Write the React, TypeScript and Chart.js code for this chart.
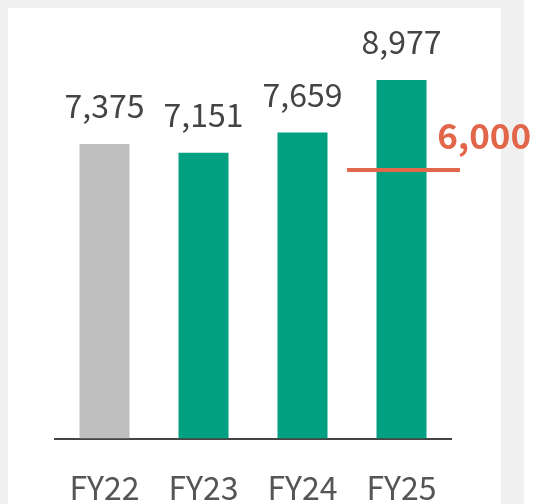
import React, { useEffect, useRef } from "react";
import { Chart, registerables } from "chart.js";

Chart.register(...registerables);

const categories = ["FY22", "FY23", "FY24", "FY25"];
const values = [7375, 7151, 7659, 8977];
const barColors = ["#bfbfbf", "#00a080", "#00a080", "#00a080"];
const targetValue = 6000;
const targetLabel = "6,000";
const targetCategory = "FY25";

const FONT = "'Noto Sans CJK JP', 'Noto Sans', sans-serif";

const valueLabelPlugin = {
  id: "valueLabels",
  afterDatasetsDraw(chart: any) {
    const ctx = chart.ctx;
    const meta = chart.getDatasetMeta(0);
    ctx.save();
    ctx.font = `400 32px ${FONT}`;
    ctx.fillStyle = "#444444";
    ctx.textAlign = "center";
    ctx.textBaseline = "alphabetic";
    meta.data.forEach((bar: any, i: number) => {
      const v = values[i];
      ctx.fillText(v.toLocaleString("en-US"), bar.x, bar.y - 26);
    });
    ctx.restore();
  },
};

const targetPlugin = {
  id: "targetMarker",
  afterDatasetsDraw(chart: any) {
    const ctx = chart.ctx;
    const xs = chart.scales.x;
    const y2 = chart.scales.y2;
    const idx = categories.indexOf(targetCategory);
    const cx = xs.getPixelForValue(idx);
    const catW = xs.width / categories.length;
    const y = y2.getPixelForValue(targetValue);
    const half = catW * 0.57;
    ctx.save();
    ctx.strokeStyle = "#e2674a";
    ctx.lineWidth = 4;
    ctx.beginPath();
    ctx.moveTo(cx - half + 2, y);
    ctx.lineTo(cx + half + 2, y);
    ctx.stroke();
    ctx.font = `700 35px ${FONT}`;
    ctx.fillStyle = "#e2674a";
    ctx.textAlign = "left";
    ctx.textBaseline = "alphabetic";
    ctx.fillText(targetLabel, cx + catW * 0.36, y - 21);
    ctx.restore();
  },
};

export default function App() {
  const ref = useRef<HTMLCanvasElement | null>(null);
  useEffect(() => {
    if (!ref.current) return;
    const chart = new Chart(ref.current, {
      type: "bar",
      data: {
        labels: categories,
        datasets: [
          {
            data: values,
            backgroundColor: barColors,
            borderWidth: 0,
            barPercentage: 0.505,
            categoryPercentage: 1,
          },
        ],
      },
      options: {
        animation: false,
        responsive: true,
        maintainAspectRatio: false,
        layout: { padding: { left: 55, right: 88, top: 39, bottom: 0 } },
        plugins: { legend: { display: false }, tooltip: { enabled: false } },
        scales: {
          x: {
            grid: { display: false, drawTicks: false },
            border: { display: true, color: "#444444", width: 2 },
            ticks: {
              color: "#555555",
              font: { family: FONT, size: 32 },
              padding: 30,
            },
          },
          y: { display: false, min: 0, max: 10000 },
          y2: { display: false, min: 0, max: 8930 },
        },
      },
      plugins: [valueLabelPlugin, targetPlugin],
    });
    return () => chart.destroy();
  }, []);

  return (
    <div
      style={{
        position: "fixed",
        left: 0,
        top: 0,
        width: 539,
        height: 504,
        background: "#f0f0f0",
        overflow: "hidden",
      }}
    >
      <div style={{ position: "absolute", left: 8, top: 8, width: 493, height: 496, background: "#ffffff" }} />
      <div style={{ position: "absolute", left: 524, top: 0, width: 15, height: 504, background: "#ffffff" }} />
      <div style={{ position: "absolute", left: 0, top: 0, width: 539, height: 537 }}>
        <canvas ref={ref} />
      </div>
    </div>
  );
}
